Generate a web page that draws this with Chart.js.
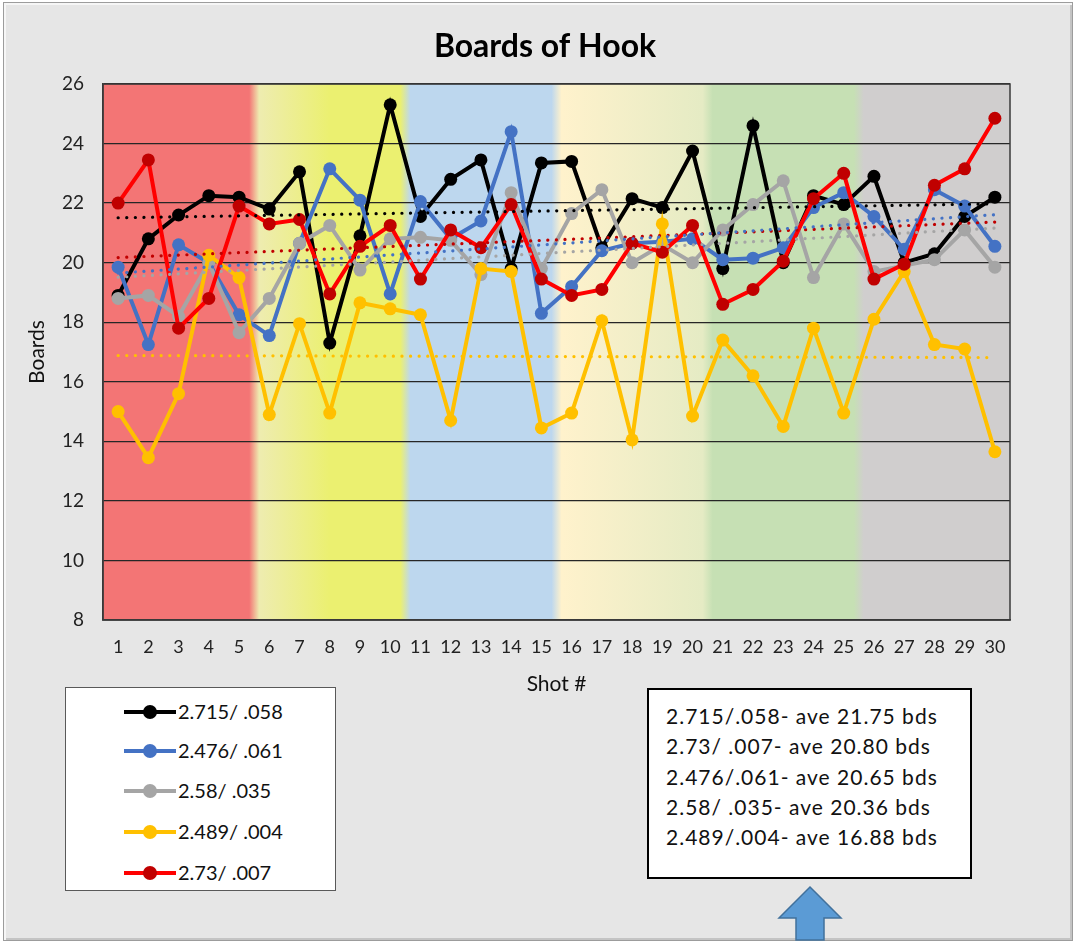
<!DOCTYPE html>
<html>
<head>
<meta charset="utf-8">
<title>Boards of Hook</title>
<script src="https://cdn.jsdelivr.net/npm/chart.js@4.4.1/dist/chart.umd.min.js"></script>
<style>
  html, body { margin: 0; padding: 0; background: #ffffff; }
  #frame {
    position: absolute; left: 3px; top: 2px; width: 1068px; height: 937px;
    background: #e6e6e6; border: 1px solid #9c9c9c;
    box-shadow: inset 2px 2px 0 #f6f6f6, inset -2px -2px 0 #c4c4c4;
  }
  #chart { position: absolute; left: 0; top: 0; }
  #legend {
    position: absolute; left: 65px; top: 687px; width: 271px; height: 204px;
    background: #ffffff; border: 1px solid #595959; box-sizing: border-box;
    font-family: Lato, "Open Sans", sans-serif; font-size: 20px; color: #111;
  }
  .lg-row { position: absolute; left: 0; height: 20px; width: 100%; }
  .lg-line { position: absolute; left: 58px; top: 8px; width: 52px; height: 4px; }
  .lg-dot { position: absolute; left: 77px; top: 3px; width: 14px; height: 14px; border-radius: 50%; }
  .lg-text { position: absolute; left: 112px; top: -3px; white-space: nowrap; line-height: 24px; }
  #stats {
    position: absolute; left: 647px; top: 688px; width: 325px; height: 191px;
    background: #ffffff; border: 2px solid #000000; box-sizing: border-box;
    font-family: Lato, "Open Sans", sans-serif; font-size: 21px; letter-spacing: 1px; color: #111;
    padding: 11px 0 0 17px; line-height: 30.3px; white-space: nowrap;
  }
  #arrow { position: absolute; left: 0; top: 0; }
</style>
</head>
<body>
<div id="frame"></div>
<canvas id="chart" width="1076" height="945"></canvas>
<div id="legend"></div>
<div id="stats"></div>
<svg id="arrow" width="1076" height="945">
  <polygon points="810,887 841,918 824,918 824,940 796,940 796,918 779,918"
           fill="#5b9bd5" stroke="#41719c" stroke-width="1.5"/>
</svg>
<script>
// Shot numbers along the x axis
const shots = ['1','2','3','4','5','6','7','8','9','10','11','12','13','14','15',
               '16','17','18','19','20','21','22','23','24','25','26','27','28','29','30'];

// Boards of hook per shot, one array per ball layout
const ball2715 = [18.9, 20.8, 21.6, 22.25, 22.2, 21.8, 23.05, 17.3, 20.9, 25.3,
                  21.55, 22.8, 23.45, 19.8, 23.35, 23.4, 20.5, 22.15, 21.85, 23.75,
                  19.8, 24.6, 20.0, 22.25, 21.95, 22.9, 20.0, 20.3, 21.55, 22.2];
const ball2476 = [19.85, 17.25, 20.6, 20.0, 18.25, 17.55, 20.65, 23.15, 22.1, 18.95,
                  22.05, 20.8, 21.4, 24.4, 18.3, 19.2, 20.4, 20.65, 20.7, 20.8,
                  20.1, 20.15, 20.5, 21.85, 22.35, 21.55, 20.45, 22.45, 21.9, 20.55];
const ball258  = [18.8, 18.9, 18.2, 20.0, 17.65, 18.8, 20.65, 21.25, 19.75, 20.8,
                  20.85, 20.75, 19.6, 22.35, 19.8, 21.65, 22.45, 20.0, 20.6, 20.0,
                  21.1, 21.95, 22.75, 19.5, 21.3, 19.7, 19.9, 20.1, 21.1, 19.85];
const ball2489 = [15.0, 13.45, 15.6, 20.25, 19.5, 14.9, 17.95, 14.95, 18.65, 18.45,
                  18.25, 14.7, 19.8, 19.7, 14.45, 14.95, 18.05, 14.05, 21.3, 14.85,
                  17.4, 16.2, 14.5, 17.8, 14.95, 18.1, 19.7, 17.25, 17.1, 13.65];
const ball273  = [22.0, 23.45, 17.8, 18.8, 21.9, 21.3, 21.45, 18.95, 20.55, 21.25,
                  19.45, 21.1, 20.5, 21.95, 19.45, 18.9, 19.1, 20.65, 20.35, 21.25,
                  18.6, 19.1, 20.05, 22.15, 23.0, 19.45, 19.95, 22.6, 23.15, 24.85];

// Series names, in legend order
const seriesNames = ['2.715/ .058', '2.476/ .061', '2.58/ .035', '2.489/ .004', '2.73/ .007'];

// Y axis range
const yMin = 8, yMax = 26, yStep = 2;

// Summary box lines
const summaryLines = ['2.715/.058- ave 21.75 bds', '2.73/ .007- ave 20.80 bds',
                      '2.476/.061- ave 20.65 bds', '2.58/ .035- ave 20.36 bds',
                      '2.489/.004- ave 16.88 bds'];

// Shot groups shaded behind the plot (shot ranges are 1-based)
const shotGroups = [
  { first: 1,  last: 5,  stops: [['#f37575', 0], ['#f37575', 1]] },
  { first: 6,  last: 10, stops: [['#eeecb0', 0], ['#ebf070', 0.5], ['#ebf070', 1]] },
  { first: 11, last: 15, stops: [['#bdd7ee', 0], ['#bdd7ee', 1]] },
  { first: 16, last: 20, stops: [['#fff2cc', 0], ['#e5ebc4', 1]] },
  { first: 21, last: 25, stops: [['#c6e0b4', 0], ['#c6e0b4', 1]] },
  { first: 26, last: 30, stops: [['#d0cece', 0], ['#d0cece', 1]] }
];

const seriesData = [ball2715, ball2476, ball258, ball2489, ball273];
const lineColors   = ['#000000', '#4472c4', '#a5a5a5', '#ffc000', '#ff0000'];
const markerColors = ['#000000', '#4472c4', '#a5a5a5', '#ffc000', '#c00000'];
const trendColors  = ['#000000', '#4472c4', '#a5a5a5', '#ffc000', '#c00000'];

// Least-squares linear trend over shot index
function linearTrend(values) {
  const n = values.length;
  let sx = 0, sy = 0, sxx = 0, sxy = 0;
  values.forEach((v, i) => { const x = i + 1; sx += x; sy += v; sxx += x * x; sxy += x * v; });
  const slope = (n * sxy - sx * sy) / (n * sxx - sx * sx);
  const icpt = (sy - slope * sx) / n;
  return values.map((_, i) => icpt + slope * (i + 1));
}

const datasets = [];
seriesData.forEach((vals, k) => {
  datasets.push({
    label: seriesNames[k],
    data: vals,
    borderColor: lineColors[k],
    backgroundColor: markerColors[k],
    pointBackgroundColor: markerColors[k],
    pointBorderColor: markerColors[k],
    pointBorderWidth: 0,
    pointRadius: 6.5,
    pointHoverRadius: 6.5,
    borderWidth: 4,
    tension: 0,
    order: 10 - k
  });
});
seriesData.forEach((vals, k) => {
  datasets.push({
    label: seriesNames[k] + ' trend',
    data: linearTrend(vals),
    borderColor: trendColors[k],
    borderWidth: 3.2,
    borderDash: [0.1, 8.5],
    borderCapStyle: 'round',
    pointRadius: 0,
    pointHoverRadius: 0,
    tension: 0,
    order: 0
  });
});

// Shaded shot groups drawn under the grid, plus the plot frame
const groupShading = {
  id: 'groupShading',
  afterLayout(chart) {
    // centre the title over the span from x=80 to the plot's right edge
    const tb = chart.titleBlock;
    if (tb) {
      tb.left = 80;
      tb.right = chart.chartArea.right;
      tb.width = tb.right - tb.left;
    }
  },
  beforeDraw(chart) {
    const { ctx, chartArea: { left, right, top, bottom }, scales: { x } } = chart;
    const w = right - left;
    const half = (x.getPixelForValue(1) - x.getPixelForValue(0)) / 2;
    const blend = 5;
    const grad = ctx.createLinearGradient(left, 0, right, 0);
    const clamp = v => Math.min(1, Math.max(0, v));
    shotGroups.forEach((g, gi) => {
      let x0 = x.getPixelForValue(g.first - 1) - half;
      let x1 = x.getPixelForValue(g.last - 1) + half;
      if (gi > 0) x0 += blend;
      if (gi < shotGroups.length - 1) x1 -= blend;
      g.stops.forEach(([c, t]) => grad.addColorStop(clamp((x0 + (x1 - x0) * t - left) / w), c));
    });
    ctx.save();
    ctx.fillStyle = grad;
    ctx.fillRect(left, top, w, bottom - top);
    ctx.restore();
  },
  beforeDatasetsDraw(chart) {
    const { ctx, chartArea: { left, right, top, bottom } } = chart;
    ctx.save();
    ctx.strokeStyle = '#3a3a3a';
    ctx.lineWidth = 1.5;
    ctx.strokeRect(left, top, right - left, bottom - top);
    ctx.restore();
  }
};

const fontFamily = 'Lato, "Open Sans", sans-serif';

new Chart(document.getElementById('chart'), {
  type: 'line',
  data: { labels: shots, datasets },
  plugins: [groupShading],
  options: {
    responsive: false,
    animation: false,
    events: [],
    layout: { padding: { left: 20, top: 20, right: 66, bottom: 240 } },
    plugins: {
      legend: { display: false },
      tooltip: { enabled: false },
      title: {
        display: true,
        text: 'Boards of Hook',
        color: '#000000',
        font: { family: fontFamily, size: 32, weight: 'bold', lineHeight: 1.2 },
        padding: { top: 7, bottom: 18.6 }
      }
    },
    scales: {
      x: {
        offset: true,
        grid: { display: false, drawTicks: false },
        border: { display: true, color: '#3a3a3a', width: 1.5 },
        ticks: { color: '#222222', font: { family: fontFamily, size: 18 }, padding: 16, maxRotation: 0, autoSkip: false },
        title: { display: true, text: 'Shot #', color: '#111111',
                 font: { family: fontFamily, size: 21 }, padding: { top: 0, bottom: 8 } },
        afterFit(scale) { scale.height = 85; }
      },
      y: {
        min: yMin, max: yMax,
        grid: { color: '#262626', lineWidth: 1.3, drawTicks: false },
        border: { display: true, color: '#3a3a3a', width: 1.5 },
        ticks: { stepSize: yStep, color: '#222222', font: { family: fontFamily, size: 19 }, padding: 19 },
        title: { display: true, text: 'Boards', color: '#111111',
                 font: { family: fontFamily, size: 21 }, padding: { top: 5, bottom: 0 } },
        afterFit(scale) { scale.width = 83; }
      }
    }
  }
});

// Legend box built from the same series lists
const legend = document.getElementById('legend');
const rowCenters = [24, 63, 103, 144, 185];
seriesNames.forEach((name, k) => {
  const row = document.createElement('div');
  row.className = 'lg-row';
  row.style.top = (rowCenters[k] - 10) + 'px';
  row.innerHTML = '<div class="lg-line" style="background:' + lineColors[k] + '"></div>' +
                  '<div class="lg-dot" style="background:' + markerColors[k] + '"></div>' +
                  '<div class="lg-text">' + name + '</div>';
  legend.appendChild(row);
});

// Summary box
document.getElementById('stats').innerHTML = summaryLines.map(s => '<div>' + s + '</div>').join('');
</script>
</body>
</html>
